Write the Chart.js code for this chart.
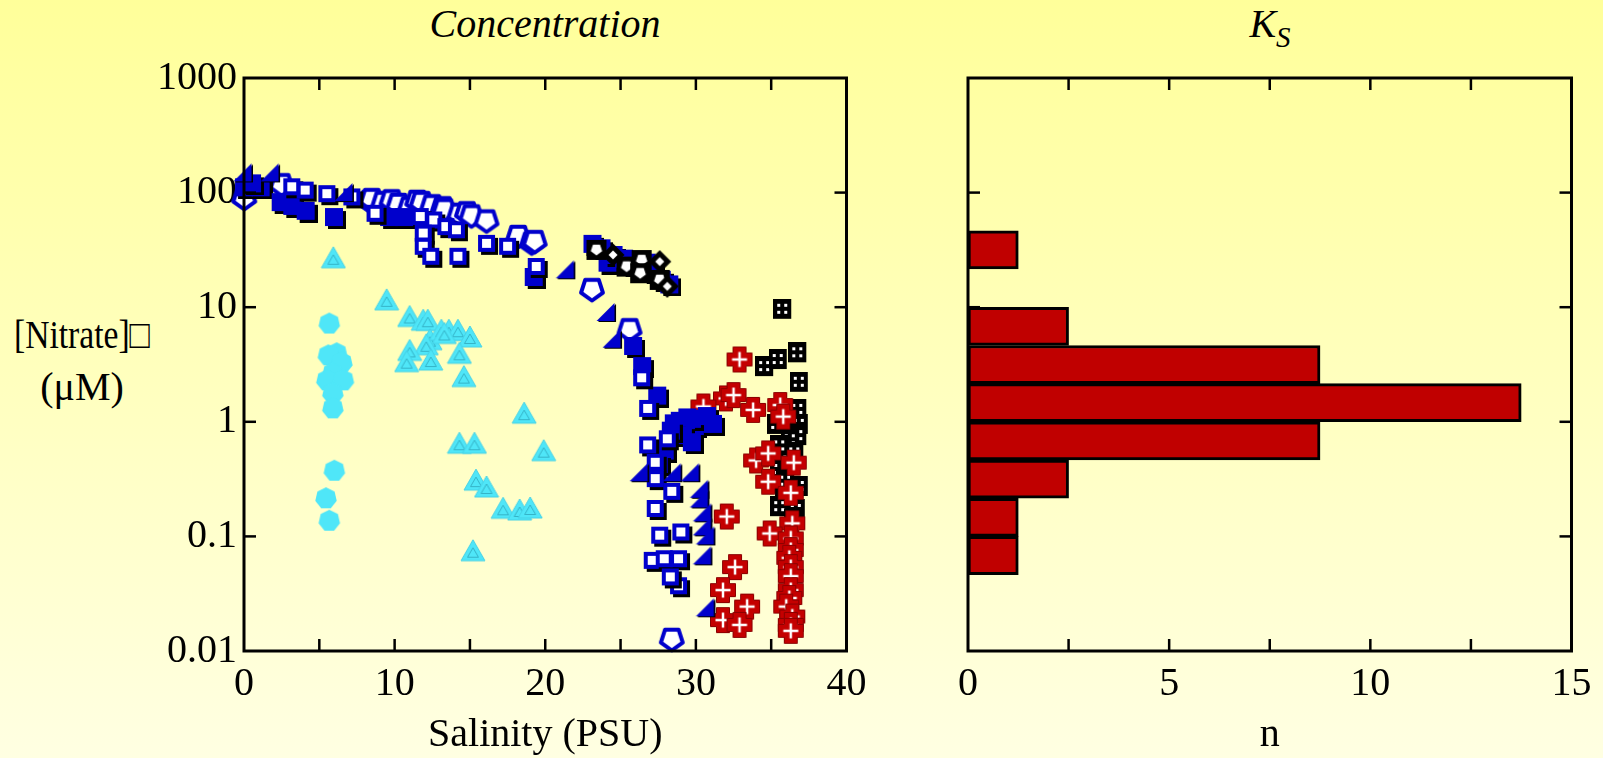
<!DOCTYPE html>
<html><head><meta charset="utf-8">
<script src="https://cdn.jsdelivr.net/npm/chart.js@4.4.1/dist/chart.umd.min.js"></script>
<style>
html,body{margin:0;padding:0;}
body{width:1603px;height:758px;overflow:hidden;background:linear-gradient(#FFFF9A,#FFFFE2);position:relative;font-family:'Liberation Serif','Times New Roman',serif;color:#000;}
canvas{position:absolute;top:0;}
#cA{left:0;} #cB{left:900px;}
.t{position:absolute;font-size:40px;line-height:40px;white-space:nowrap;}
</style></head><body>
<div class="t" style="left:345px;width:400px;text-align:center;top:4px;font-style:italic">Concentration</div>
<div class="t" style="left:1120px;width:300px;text-align:center;top:4px;font-style:italic">K<span style="font-size:29px;position:relative;top:10px">S</span></div>
<div class="t" style="left:0;width:164px;text-align:center;top:309px;line-height:52px"><span style="display:inline-block;transform:scaleX(0.84);transform-origin:center">[Nitrate]□</span><br>(μM)</div>
<canvas id="cA" width="880" height="758"></canvas>
<canvas id="cB" width="703" height="758"></canvas>
<script>
// ---------- data ----------
const salinityTicks = [0, 10, 20, 30, 40];
const nTicks = [0, 5, 10, 15];
const nitrateTicks = [0.01, 0.1, 1, 10, 100, 1000];

const cyanHeptagons = [[5.66,7.2],[6.15,3.96],[5.6,3.8],[6.5,3.27],[5.9,2.66],[5.5,2.3],[6.6,2.3],[5.9,1.77],[5.9,1.31],[6.0,0.374],[5.44,0.215],[5.66,0.137]];
const cyanTriangles = [[5.93,27],[9.47,11.6],[11.0,8.3],[11.9,7.7],[12.2,7.7],[12.35,5.2],[12.1,4.7],[13.1,6.3],[13.6,6.3],[14.2,6.3],[13.3,5.9],[15.0,5.5],[11.0,4.2],[10.8,3.35],[12.4,3.46],[14.3,3.96],[14.6,2.48],[18.6,1.19],[14.3,0.65],[15.3,0.65],[19.9,0.56],[15.4,0.31],[16.1,0.27],[17.2,0.176],[18.3,0.17],[19.0,0.177],[15.2,0.075]];
const blackDominoes = [[35.8,9.5],[34.6,3.0],[35.5,3.46],[36.8,3.96],[36.9,2.19],[36.8,1.27],[36.9,0.94],[35.4,0.94],[36.8,0.75],[36.3,0.69],[35.6,0.61],[36.6,0.53],[36.2,0.45],[35.6,0.38],[36.0,0.30],[36.9,0.27],[35.9,0.22],[35.6,0.18],[36.7,0.17],[36.5,0.139]];
const redCrosses = [[32.9,3.5],[32.0,1.60],[32.5,1.71],[33.8,1.27],[35.6,1.40],[35.8,1.11],[30.5,1.36],[34.0,0.46],[34.8,0.53],[36.5,0.44],[34.8,0.30],[36.3,0.24],[32.05,0.149],[36.4,0.13],[34.9,0.106],[36.3,0.096],[36.3,0.076],[36.2,0.065],[32.6,0.054],[36.3,0.054],[36.3,0.045],[31.8,0.034],[36.3,0.034],[36.2,0.029],[33.4,0.0244],[36.0,0.0244],[36.4,0.020],[31.8,0.0186],[32.9,0.0169],[36.3,0.0169],[36.3,0.015]];
const bluePentagons = [[0.02,88],[2.5,116],[8.37,83],[8.48,86],[9.25,81],[9.8,84],[10.25,78],[11.0,73],[11.5,83],[11.8,81],[12.5,76],[13.2,73],[13.3,70],[14.3,64],[14.8,66],[15.1,62],[16.1,56],[18.2,41],[19.1,36],[19.3,37],[23.1,14.1],[25.6,6.3],[28.4,0.0125]];
const blueFilledSquares = [[0.07,109],[1.17,109],[0.6,118],[2.5,81],[3.27,75],[4.16,68],[6.04,60],[9.7,60],[10.7,60],[19.3,18],[23.2,35],[23.8,32],[24.2,24],[24.6,28],[25.3,26],[25.8,23],[26.5,21.5],[26.8,24],[27.2,20],[27.8,17],[28.3,15.5],[25.9,4.5],[26.5,3.0],[27.5,1.66],[28.6,0.95],[29.0,1.0],[29.5,1.07],[30.0,0.9],[30.4,1.04],[30.8,1.1],[31.2,0.94],[29.2,0.75],[29.8,0.65],[28.4,0.82],[28.0,0.55],[27.6,0.42]];
const blueOpenSquares = [[3.27,109],[4.16,102],[5.6,95],[7.26,89],[8.8,64],[11.8,60],[12.7,56],[13.5,49],[14.2,46],[12.0,43],[12.0,33],[12.5,27],[14.3,27],[16.2,35],[17.6,33],[19.5,22],[26.5,2.35],[26.9,1.27],[28.2,0.69],[26.9,0.61],[27.4,0.43],[27.4,0.31],[28.5,0.24],[27.4,0.17],[29.1,0.106],[27.7,0.0995],[27.2,0.060],[28.0,0.062],[28.95,0.062],[28.95,0.036],[28.4,0.043]];
const blueTriangles = [[0.0,147],[1.8,147],[6.7,99],[21.4,21],[24.1,8.9],[24.5,5.2],[26.3,0.356],[28.5,0.356],[29.7,0.356],[30.3,0.255],[30.3,0.21],[30.5,0.159],[30.5,0.12],[30.7,0.10],[30.5,0.067],[30.7,0.0236]];
const blackShields = [[23.4,31.6],[25.4,22.6],[26.4,25.8],[26.3,19.8],[27.6,17.3]];
const blackDiamonds = [[24.5,28.6],[27.6,25.0],[28.1,15.2]];

// histogram of K_S (bins of 1/3 decade): bin centre, count
const ksBinCentres = [31.6, 6.81, 3.16, 1.468, 0.681, 0.316, 0.1468, 0.0681];
const ksCounts = [1.25, 2.5, 8.75, 13.75, 8.75, 2.5, 1.25, 1.25];

// ---------- marker images ----------
const BLUE = '#0000CC', RED = '#C40000', CYAN = '#4FE6F8';
function mk(w, h, fn) { const c = document.createElement('canvas'); c.width = w; c.height = h; fn(c.getContext('2d')); return c; }
function poly(g, cx, cy, r, n, start) { g.beginPath(); for (let k = 0; k < n; k++) { const a = start + k * 2 * Math.PI / n; g.lineTo(cx + r * Math.cos(a), cy + r * Math.sin(a)); } g.closePath(); }
const mFilledSq = mk(22, 22, g => { g.fillStyle = '#000'; g.fillRect(4, 4, 18, 18); g.fillStyle = BLUE; g.fillRect(1, 1, 18, 18); });
const mOpenSq = mk(22, 22, g => { g.fillStyle = '#000'; g.fillRect(4, 4, 17, 17); g.fillStyle = BLUE; g.fillRect(1, 1, 17, 17); g.fillStyle = '#fff'; g.fillRect(5, 5, 9, 9); });
const mPent = mk(28, 28, g => { poly(g, 14, 13, 11.5, 5, Math.PI / 2); g.fillStyle = '#fff'; g.fill(); g.lineWidth = 4; g.strokeStyle = BLUE; g.lineJoin = 'round'; g.stroke(); });
const mTri = mk(22, 22, g => { g.fillStyle = '#000'; g.beginPath(); g.moveTo(20, 2); g.lineTo(20, 20); g.lineTo(2, 20); g.closePath(); g.fill(); g.fillStyle = BLUE; g.beginPath(); g.moveTo(18.5, 1); g.lineTo(18.5, 19); g.lineTo(0.5, 19); g.closePath(); g.fill(); });
const mCross = mk(28, 28, g => { const c = 14, a = 6.5, L = 12.5; g.beginPath(); g.moveTo(c - a, c - L); g.lineTo(c + a, c - L); g.lineTo(c + a, c - a); g.lineTo(c + L, c - a); g.lineTo(c + L, c + a); g.lineTo(c + a, c + a); g.lineTo(c + a, c + L); g.lineTo(c - a, c + L); g.lineTo(c - a, c + a); g.lineTo(c - L, c + a); g.lineTo(c - L, c - a); g.lineTo(c - a, c - a); g.closePath(); g.fillStyle = RED; g.fill(); g.strokeStyle = '#8A0000'; g.lineWidth = 1; g.stroke(); g.strokeStyle = '#fff'; g.lineWidth = 2.5; g.beginPath(); g.moveTo(c - 7.5, c); g.lineTo(c + 7.5, c); g.moveTo(c, c - 7.5); g.lineTo(c, c + 7.5); g.stroke(); });
const mDomino = mk(20, 22, g => { g.fillStyle = '#000'; g.fillRect(0, 0, 18, 20); g.fillStyle = '#fff'; [[4, 5], [11, 5], [4, 12], [11, 12]].forEach(p => g.fillRect(p[0], p[1], 3, 3)); });
const mShield = mk(22, 22, g => { g.fillStyle = '#000'; g.fillRect(1, 1, 20, 20); poly(g, 11, 10.5, 6, 5, Math.PI / 2); g.fillStyle = '#fff'; g.fill(); });
const mDiam = mk(24, 24, g => { poly(g, 12, 12, 11.5, 4, 0); g.fillStyle = '#000'; g.fill(); poly(g, 12, 12, 4.5, 4, 0); g.fillStyle = '#fff'; g.fill(); });
const mCyanTri = mk(26, 24, g => { g.beginPath(); g.moveTo(13, 1); g.lineTo(25, 22); g.lineTo(1, 22); g.closePath(); g.fillStyle = CYAN; g.fill(); g.strokeStyle = '#46D2E6'; g.lineWidth = 1; g.stroke(); g.beginPath(); g.moveTo(13, 9); g.lineTo(18.5, 18.5); g.lineTo(7.5, 18.5); g.closePath(); g.strokeStyle = '#35B4C8'; g.lineWidth = 1; g.stroke(); });
const mCyanHep = mk(26, 26, g => { poly(g, 13, 13, 11, 7, -Math.PI / 2); g.fillStyle = CYAN; g.fill(); });

// ---------- helpers ----------
const FONT = "'Liberation Serif','Times New Roman',serif";
const pts = arr => arr.map(p => ({ x: p[0], y: p[1] }));
const series = [
  [cyanHeptagons, mCyanHep], [cyanTriangles, mCyanTri], [blackDominoes, mDomino], [redCrosses, mCross],
  [bluePentagons, mPent], [blueFilledSquares, mFilledSq], [blueOpenSquares, mOpenSq], [blueTriangles, mTri],
  [blackShields, mShield], [blackDiamonds, mDiam]
];

const framePlugin = {
  id: 'frame',
  afterDatasetsDraw(chart, args, o) {
    const { ctx, chartArea: a, scales } = chart;
    ctx.save();
    ctx.strokeStyle = '#000';
    ctx.lineWidth = 2.5;
    const L = 12;
    const line = (x1, y1, x2, y2) => { ctx.beginPath(); ctx.moveTo(x1, y1); ctx.lineTo(x2, y2); ctx.stroke(); };
    o.xMarks.forEach(v => { const px = scales.x.getPixelForValue(v); line(px, a.bottom, px, a.bottom - L); line(px, a.top, px, a.top + L); });
    o.yMarks.forEach(v => { const py = scales.y.getPixelForValue(v); line(a.left, py, a.left + L, py); line(a.right, py, a.right - L, py); });
    ctx.lineWidth = 3;
    ctx.strokeRect(a.left, a.top, a.right - a.left, a.bottom - a.top);
    ctx.restore();
  }
};

const tickFont = { family: FONT, size: 40 };
function yScale(display) {
  return {
    type: 'logarithmic', min: 0.01, max: 1000, display,
    afterBuildTicks: s => { s.ticks = nitrateTicks.map(v => ({ value: v })); },
    ticks: { callback: v => String(v), font: tickFont, color: '#000', padding: 7 },
    grid: { display: false, drawTicks: false }, border: { display: false },
    afterFit: s => { if (display) s.width = 244; }
  };
}
function xScale(max, tickVals, title) {
  return {
    type: 'linear', min: 0, max, position: 'bottom',
    afterBuildTicks: s => { s.ticks = tickVals.map(v => ({ value: v })); },
    ticks: { font: tickFont, color: '#000', padding: 9, maxRotation: 0 },
    grid: { display: false, drawTicks: false }, border: { display: false },
    title: { display: true, text: title, font: { family: FONT, size: 40, lineHeight: 1 }, color: '#000', padding: { top: 0, bottom: 3 } },
    afterFit: s => { s.height = 107; }
  };
}

new Chart(document.getElementById('cA'), {
  type: 'scatter',
  data: {
    datasets: series.map((s, i) => ({
      data: pts(s[0]), pointStyle: s[1], pointRadius: 10, pointHoverRadius: 10, clip: false, order: series.length - i
    }))
  },
  options: {
    responsive: false, animation: false, events: [],
    layout: { padding: { left: 0, top: 78, right: 33.5, bottom: 0 } },
    plugins: { legend: { display: false }, tooltip: { enabled: false }, frame: { xMarks: [5, 10, 15, 20, 25, 30, 35], yMarks: [0.1, 1, 10, 100] } },
    scales: { x: xScale(40, salinityTicks, 'Salinity (PSU)'), y: yScale(true) }
  },
  plugins: [framePlugin]
});

new Chart(document.getElementById('cB'), {
  type: 'bar',
  data: {
    datasets: [{
      data: ksBinCentres.map((c, i) => ({ y: c, x: ksCounts[i] })),
      backgroundColor: '#C00000', borderColor: '#000', borderWidth: 3, borderSkipped: false,
      barPercentage: 1, categoryPercentage: 1
    }]
  },
  options: {
    indexAxis: 'y', responsive: false, animation: false, events: [],
    layout: { padding: { left: 68, top: 78, right: 31.5, bottom: 0 } },
    plugins: { legend: { display: false }, tooltip: { enabled: false }, frame: { xMarks: [2.5, 5, 7.5, 10, 12.5], yMarks: [0.1, 1, 10, 100] } },
    scales: { x: xScale(15, nTicks, 'n'), y: yScale(false) }
  },
  plugins: [framePlugin]
});
</script>
</body></html>
